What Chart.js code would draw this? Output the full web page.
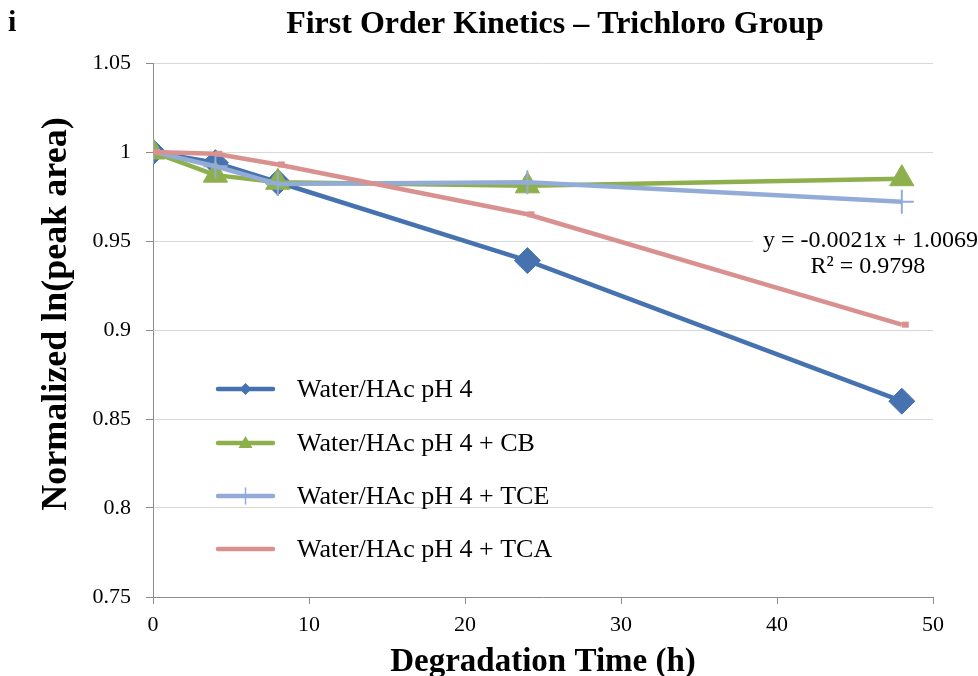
<!DOCTYPE html>
<html>
<head>
<meta charset="utf-8">
<script src="https://cdn.jsdelivr.net/npm/chart.js@4/dist/chart.umd.min.js"></script>
<style>
  html, body { margin: 0; padding: 0; background: #ffffff; }
  #wrap { width: 978px; height: 676px; }
</style>
</head>
<body>
<div id="wrap"><canvas id="c" width="978" height="676"></canvas></div>
<script>
// Degradation time points (h)
const hours = [0, 4, 8, 24, 48];

// Normalized ln(peak area) per condition
const waterHAc    = [1.000, 0.994, 0.983, 0.939, 0.860];
const waterHAcCB  = [1.000, 0.987, 0.983, 0.981, 0.985];
const waterHAcTCE = [1.000, 0.992, 0.982, 0.983, 0.972];
const waterHAcTCA = [1.000, 0.999, 0.993, 0.965, 0.903];

const seriesNames = [
  'Water/HAc pH 4',
  'Water/HAc pH 4 + CB',
  'Water/HAc pH 4 + TCE',
  'Water/HAc pH 4 + TCA'
];

// Y axis ticks
const yTicks = [0.75, 0.8, 0.85, 0.9, 0.95, 1, 1.05];

// TCA linear fit label
const fitLines = ['y = -0.0021x + 1.0069', 'R\u00B2 = 0.9798'];

const SERIF = '"Liberation Serif", "Times New Roman", serif';

function pts(vals) { return hours.map((h, i) => ({ x: h, y: vals[i] })); }

// later series are painted over earlier ones
const styles = [
  { color: '#4673b0', pointStyle: 'rectRot', radius: 13, pbw: 1, order: 3 },
  { color: '#8db04c', pointStyle: 'triangle', radius: 14, pbw: 1, order: 2 },
  { color: '#93acd7', pointStyle: 'cross', radius: 12, pbw: 2, order: 1 },
  { color: '#d8918f', pointStyle: 'dash', radius: 7, pbw: 6, order: 0 }
];
const seriesVals = [waterHAc, waterHAcCB, waterHAcTCE, waterHAcTCA];

const datasets = seriesVals.map((v, i) => ({
  label: seriesNames[i],
  data: pts(v),
  order: styles[i].order,
  borderColor: styles[i].color,
  backgroundColor: styles[i].color,
  borderWidth: 4.5,
  pointStyle: styles[i].pointStyle,
  pointRadius: styles[i].radius,
  pointBorderWidth: styles[i].pbw,
  pointBorderColor: styles[i].color,
  pointBackgroundColor: styles[i].color,
  tension: 0
}));

// Title, panel letter, y-axis title, in-plot legend and fit equation
const decorations = {
  id: 'decorations',
  afterDraw(chart) {
    const ctx = chart.ctx;
    ctx.save();

    // panel letter and title
    ctx.fillStyle = '#000';
    ctx.textBaseline = 'middle';
    ctx.textAlign = 'left';
    ctx.font = 'bold 30px ' + SERIF;
    ctx.fillText('i', 8, 23);
    ctx.textAlign = 'center';
    ctx.font = 'bold 32px ' + SERIF;
    ctx.fillText('First Order Kinetics \u2013 Trichloro Group', 555, 25);

    // y-axis title
    ctx.save();
    ctx.translate(57, 314);
    ctx.rotate(-Math.PI / 2);
    ctx.font = 'bold 36px ' + SERIF;
    ctx.textAlign = 'center';
    ctx.fillText('Normalized ln(peak area)', 0, 0);
    ctx.restore();

    // fit equation with white backing
    const xs = chart.scales.x, ys = chart.scales.y;
    ctx.font = '24px ' + SERIF;
    const eqLeft = xs.getPixelForValue(39.1);
    const eqRight = xs.getPixelForValue(49.5);
    const eqY = ys.getPixelForValue(0.95);
    ctx.fillStyle = '#fff';
    ctx.fillRect(eqLeft - 10, eqY - 13, 978 - eqLeft + 10, 26);
    ctx.fillStyle = '#000';
    ctx.textAlign = 'left';
    ctx.fillText(fitLines[0], eqLeft, eqY);
    ctx.textAlign = 'right';
    ctx.fillText(fitLines[1], eqRight, eqY + 26);

    // legend
    const lx0 = 218, lx1 = 273, tx = 297;
    const rows = [389, 443, 496, 549];
    chart.data.datasets.forEach((ds, i) => {
      const y = rows[i];
      ctx.strokeStyle = ds.borderColor;
      ctx.lineWidth = 4.5;
      ctx.lineCap = 'round';
      ctx.beginPath();
      ctx.moveTo(lx0, y);
      ctx.lineTo(lx1, y);
      ctx.stroke();
      const mid = (lx0 + lx1) / 2;
      ctx.fillStyle = ds.borderColor;
      if (ds.pointStyle === 'rectRot') {
        ctx.beginPath();
        ctx.moveTo(mid, y - 6); ctx.lineTo(mid + 6, y); ctx.lineTo(mid, y + 6); ctx.lineTo(mid - 6, y);
        ctx.closePath(); ctx.fill();
      } else if (ds.pointStyle === 'triangle') {
        ctx.beginPath();
        ctx.moveTo(mid, y - 7); ctx.lineTo(mid + 7, y + 5); ctx.lineTo(mid - 7, y + 5);
        ctx.closePath(); ctx.fill();
      } else if (ds.pointStyle === 'cross') {
        ctx.lineWidth = 1.5;
        ctx.beginPath();
        ctx.moveTo(mid, y - 8); ctx.lineTo(mid, y + 8);
        ctx.stroke();
      }
      ctx.fillStyle = '#000';
      ctx.textAlign = 'left';
      ctx.font = '26px ' + SERIF;
      ctx.fillText(ds.label, tx, y + 1);
    });
    ctx.restore();
  }
};

new Chart(document.getElementById('c'), {
  type: 'line',
  data: { datasets },
  options: {
    responsive: false,
    animation: false,
    layout: { padding: { top: 63, right: 45, left: 0, bottom: 0 } },
    plugins: {
      legend: { display: false },
      title: { display: false },
      tooltip: { enabled: false }
    },
    scales: {
      x: {
        type: 'linear',
        min: 0,
        max: 50,
        ticks: {
          stepSize: 10,
          color: '#000',
          font: { family: SERIF, size: 22 },
          padding: 8
        },
        grid: {
          drawOnChartArea: false,
          drawTicks: true,
          tickLength: 7,
          tickColor: '#8c8c8c'
        },
        border: { color: '#8c8c8c', width: 1 },
        title: {
          display: true,
          text: 'Degradation Time (h)',
          color: '#000',
          font: { family: SERIF, size: 33, weight: 'bold' },
          padding: { top: 0, bottom: -6 }
        },
        afterFit(scale) { scale.height = 79; }
      },
      y: {
        type: 'linear',
        min: 0.75,
        max: 1.05,
        afterBuildTicks(scale) { scale.ticks = yTicks.map(v => ({ value: v })); },
        ticks: {
          color: '#000',
          font: { family: SERIF, size: 22 },
          padding: 15,
          callback: v => String(Number(v.toFixed(2)))
        },
        grid: {
          color: '#d9d9d9',
          tickColor: '#8c8c8c',
          tickLength: 7,
          lineWidth: 1
        },
        border: { color: '#8c8c8c', width: 1 },
        afterFit(scale) { scale.width = 153; }
      }
    }
  },
  plugins: [decorations]
});
</script>
</body>
</html>
